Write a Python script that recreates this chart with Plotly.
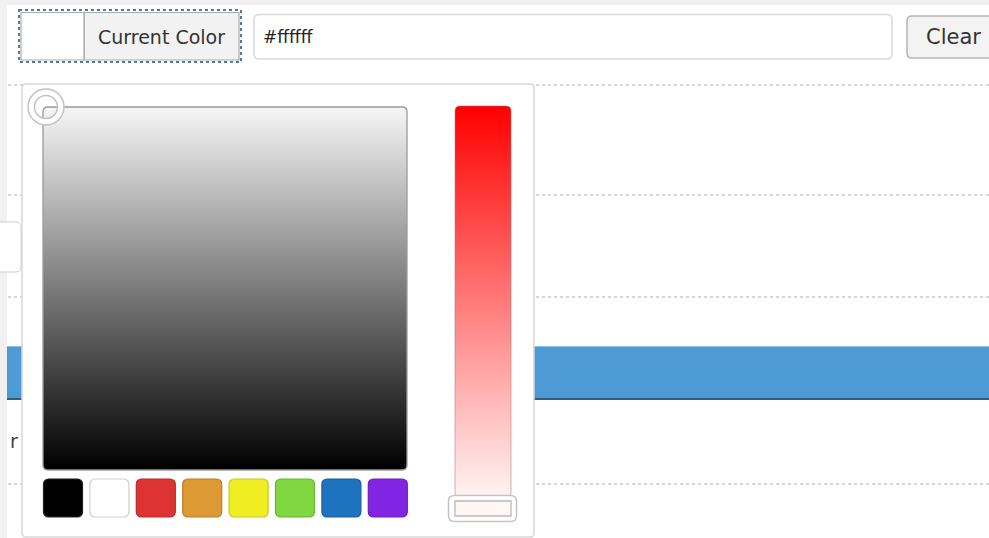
import numpy as np
import plotly.graph_objects as go

# ---- data ----
palette_names = ["black", "white", "red", "orange", "yellow", "green", "blue", "purple"]
palette_colors = ["#000000", "#ffffff", "#dd3333", "#dd9933", "#eeee22", "#81d742", "#1e73be", "#8224e3"]
palette_border = ["#222222", "#cfcfcf", "#b82a2a", "#b87f2a", "#c8c81c", "#6bb336", "#185f9e", "#6c1ebd"]
current_color = "#ffffff"
button_label = "Current Color"
clear_label = "Clear"
square_stops = [[0.0, "#000000"], [1.0, "#f6f6f6"]]      # value gradient (bottom -> top)
strip_stops = [[0.0, "#ff0000"], [1.0, "#fff3f3"]]       # saturation strip (top -> bottom)

W, H = 989, 538
FONT = "DejaVu Sans"


def rrect(x0, y0, x1, y1, r):
    return (f"M{x0+r},{y0} L{x1-r},{y0} Q{x1},{y0} {x1},{y0+r} L{x1},{y1-r} "
            f"Q{x1},{y1} {x1-r},{y1} L{x0+r},{y1} Q{x0},{y1} {x0},{y1-r} "
            f"L{x0},{y0+r} Q{x0},{y0} {x0+r},{y0} Z")


def corner_masks(x0, y0, x1, y1, r, color="#ffffff"):
    out = []
    paths = [
        f"M{x0},{y0} L{x0+r},{y0} Q{x0},{y0} {x0},{y0+r} Z",
        f"M{x1},{y0} L{x1-r},{y0} Q{x1},{y0} {x1},{y0+r} Z",
        f"M{x0},{y1} L{x0+r},{y1} Q{x0},{y1} {x0},{y1-r} Z",
        f"M{x1},{y1} L{x1-r},{y1} Q{x1},{y1} {x1},{y1-r} Z",
    ]
    for p in paths:
        out.append(dict(type="path", path=p, fillcolor=color, line=dict(width=0), layer="above"))
    return out


fig = go.Figure()

# ---- value square (heatmap) ----
sq_x0, sq_x1, sq_y0, sq_y1 = 43, 407, 107, 470
n = sq_y1 - sq_y0
y_edges = np.linspace(sq_y0, sq_y1, n + 1)
z_sq = np.linspace(1.0, 0.0, n).reshape(-1, 1) * np.ones((1, 2))
fig.add_trace(go.Heatmap(
    x=[sq_x0, (sq_x0 + sq_x1) / 2, sq_x1], y=y_edges, z=z_sq,
    colorscale=square_stops, zmin=0, zmax=1, showscale=False, hoverinfo="skip"))

# ---- saturation strip (heatmap) ----
st_x0, st_x1, st_y0, st_y1 = 455, 511, 106, 497
m = st_y1 - st_y0
y_edges2 = np.linspace(st_y0, st_y1, m + 1)
z_st = np.linspace(0.0, 1.0, m).reshape(-1, 1) * np.ones((1, 2))
fig.add_trace(go.Heatmap(
    x=[st_x0, (st_x0 + st_x1) / 2, st_x1], y=y_edges2, z=z_st,
    colorscale=strip_stops, zmin=0, zmax=1, showscale=False, hoverinfo="skip"))

# ---- palette swatches (bars) ----
sw_start, sw_step, sw_w, sw_top, sw_h = 63, 46.4, 39, 479, 38
sw_x = [sw_start + i * sw_step for i in range(len(palette_colors))]
fig.add_trace(go.Bar(
    x=sw_x, y=[sw_h] * len(palette_colors), base=sw_top, width=sw_w,
    marker=dict(color=palette_colors, line=dict(color=palette_border, width=1.2)),
    hovertext=palette_names, hoverinfo="text", showlegend=False))

shapes = []
# page backdrop
shapes.append(dict(type="rect", x0=0, x1=W, y0=0, y1=5, fillcolor="#f1f1f1", line=dict(width=0), layer="below"))
shapes.append(dict(type="rect", x0=0, x1=7, y0=0, y1=H, fillcolor="#f1f1f1", line=dict(width=0), layer="below"))
# dotted row separators
for yy in [85, 195, 297, 484]:
    shapes.append(dict(type="line", x0=8, x1=W, y0=yy, y1=yy,
                       line=dict(color="#c9c9c9", width=1.5, dash="dot"), layer="below"))
# partial element on the left
shapes.append(dict(type="path", path=rrect(-10, 222, 21, 272, 5), fillcolor="#ffffff",
                   line=dict(color="#d0d0d0", width=1), layer="below"))
# blue bar
shapes.append(dict(type="rect", x0=7, x1=W + 2, y0=346, y1=399, fillcolor="#4d9ad5",
                   line=dict(width=0), layer="below"))
shapes.append(dict(type="line", x0=7, x1=W + 2, y0=346.5, y1=346.5, line=dict(color="#8fbfe6", width=1), layer="below"))
shapes.append(dict(type="line", x0=7, x1=W + 2, y0=399, y1=399, line=dict(color="#2a5f8c", width=2), layer="below"))
# popup panel
shapes.append(dict(type="path", path=rrect(22, 84, 534, 537, 4), fillcolor="#ffffff",
                   line=dict(color="#d8d8d8", width=1.5), layer="below"))

# current colour group
shapes.append(dict(type="rect", x0=19, x1=241, y0=10, y1=62, fillcolor="rgba(0,0,0,0)",
                   line=dict(color="#4f7d99", width=2, dash="dot"), layer="above"))
shapes.append(dict(type="rect", x0=84, x1=239, y0=12.5, y1=60, fillcolor="#f2f2f2",
                   line=dict(color="#a9a9a9", width=1.2), layer="above"))
shapes.append(dict(type="rect", x0=21, x1=84, y0=12.5, y1=60, fillcolor=current_color,
                   line=dict(color="#a9a9a9", width=1.2), layer="above"))
# hex input
shapes.append(dict(type="path", path=rrect(254, 14.5, 892, 59, 5), fillcolor="#ffffff",
                   line=dict(color="#dadada", width=1.5), layer="above"))
# clear button
shapes.append(dict(type="path", path=rrect(907, 16, 1000, 58, 5), fillcolor="#f3f3f3",
                   line=dict(color="#b5b5b5", width=1.5), layer="above"))

# square border + corners
shapes += corner_masks(sq_x0, sq_y0, sq_x1, sq_y1, 5)
shapes.append(dict(type="path", path=rrect(sq_x0, sq_y0, sq_x1, sq_y1, 5), fillcolor="rgba(0,0,0,0)",
                   line=dict(color="#9a9a9a", width=1.3), layer="above"))
# strip border + corners
shapes += corner_masks(st_x0, st_y0, st_x1, st_y1, 5)
shapes.append(dict(type="path", path=rrect(st_x0, st_y0, st_x1, st_y1, 5), fillcolor="rgba(0,0,0,0)",
                   line=dict(color="rgba(170,120,120,0.45)", width=1.2), layer="above"))
# strip handle
shapes.append(dict(type="path", path=rrect(448.5, 495.5, 516.5, 521.5, 6), fillcolor="#ffffff",
                   line=dict(color="#c4c4c4", width=1.5), layer="above"))
shapes.append(dict(type="rect", x0=455, x1=511, y0=501, y1=516, fillcolor="#fff6f6",
                   line=dict(color="#b8b8b8", width=1.3), layer="above"))
# square handle (ring)
cx, cy = 46, 107
shapes.append(dict(type="circle", x0=cx - 14.5, x1=cx + 14.5, y0=cy - 14.5, y1=cy + 14.5,
                   fillcolor="rgba(0,0,0,0)", line=dict(color="#ffffff", width=6), layer="above"))
shapes.append(dict(type="circle", x0=cx - 18, x1=cx + 18, y0=cy - 18, y1=cy + 18,
                   fillcolor="rgba(0,0,0,0)", line=dict(color="#c2c2c2", width=1.5), layer="above"))
shapes.append(dict(type="circle", x0=cx - 11.5, x1=cx + 11.5, y0=cy - 11.5, y1=cy + 11.5,
                   fillcolor="rgba(0,0,0,0)", line=dict(color="#c2c2c2", width=1.5), layer="above"))

annotations = [
    dict(x=161, y=37, text=button_label, showarrow=False, xanchor="center", yanchor="middle",
         font=dict(family=FONT, size=19, color="#333333")),
    dict(x=261, y=37, text=current_color, showarrow=False, xanchor="left", yanchor="middle",
         font=dict(family=FONT, size=17, color="#222222")),
    dict(x=924, y=37, text=clear_label, showarrow=False, xanchor="left", yanchor="middle",
         font=dict(family=FONT, size=21, color="#333333")),
    dict(x=8, y=441, text="r", showarrow=False, xanchor="left", yanchor="middle",
         font=dict(family=FONT, size=19, color="#444444")),
]

fig.update_layout(
    width=W, height=H, margin=dict(l=0, r=0, t=0, b=0),
    paper_bgcolor="#ffffff", plot_bgcolor="#ffffff",
    xaxis=dict(range=[0, W], visible=False, fixedrange=True),
    yaxis=dict(range=[H, 0], visible=False, fixedrange=True),
    shapes=shapes, annotations=annotations,
    barcornerradius=5, showlegend=False,
)

fig.write_html(
    "out.html",
    config={"displayModeBar": False},
    post_script="document.body.style.margin='0';document.body.style.padding='0';document.body.style.overflow='hidden';",
)
